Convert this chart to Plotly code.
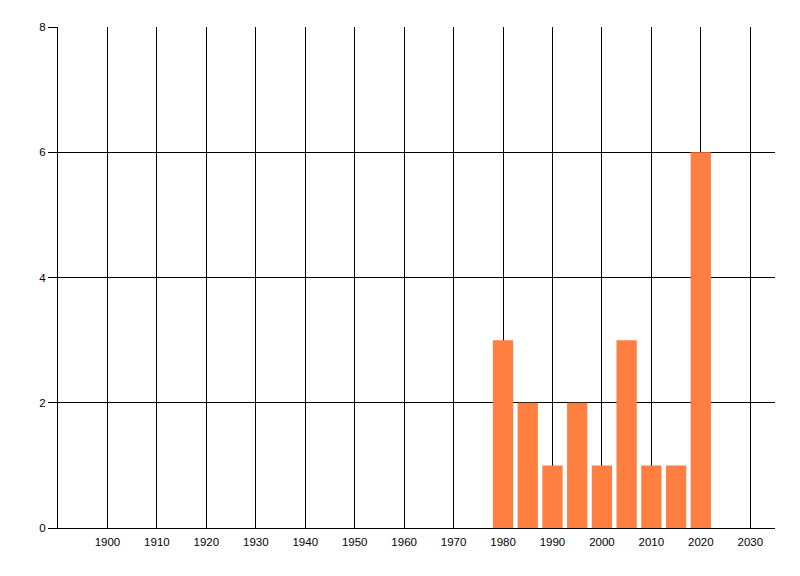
import plotly.graph_objects as go

years = [1980, 1985, 1990, 1995, 2000, 2005, 2010, 2015, 2020]
counts = [3, 2, 1, 2, 1, 3, 1, 1, 6]
x_ticks = list(range(1900, 2031, 10))
y_ticks = [0, 2, 4, 6, 8]

fig = go.Figure(go.Bar(x=years, y=counts, width=4.1, marker=dict(color="#FF7F40", line=dict(width=0))))

# page body has an 8px default margin; size the figure to fit inside the 800x576 window
fig.update_layout(
    width=792, height=568,
    margin=dict(l=50, r=25, t=19, b=48),
    plot_bgcolor="white", paper_bgcolor="white",
    font=dict(family="Liberation Sans, Arial, sans-serif", size=11.5, color="black"),
    showlegend=False,
)
fig.update_xaxes(
    range=[1890, 2035], tickvals=x_ticks, ticktext=[str(v) for v in x_ticks],
    showgrid=True, gridcolor="black", gridwidth=1,
    showline=True, linecolor="black", linewidth=1,
    ticks="outside", ticklen=3, tickcolor="rgba(0,0,0,0)",
    zeroline=False, automargin=False,
)
fig.update_yaxes(
    range=[0, 8], tickvals=y_ticks,
    showgrid=True, gridcolor="black", gridwidth=1,
    showline=True, linecolor="black", linewidth=1,
    ticks="outside", ticklen=9, tickcolor="black", tickwidth=1,
    zeroline=False, automargin=False,
)
fig.write_html("out.html")
